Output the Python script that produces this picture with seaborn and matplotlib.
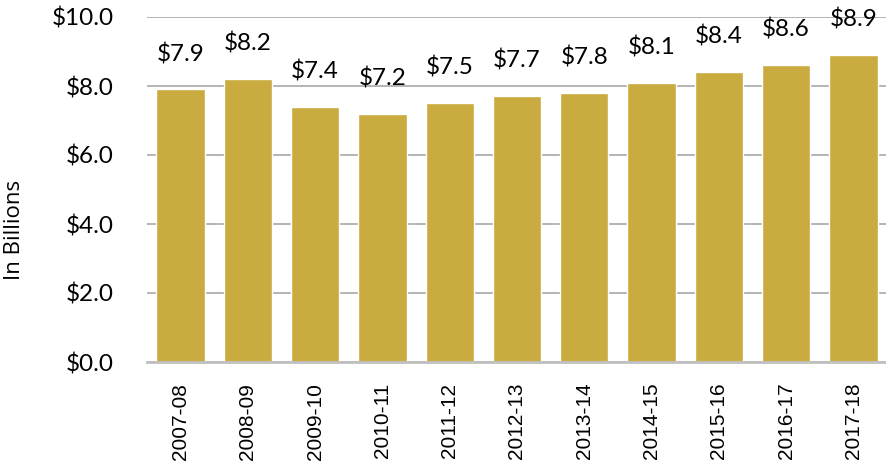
import matplotlib
matplotlib.use("Agg")
import matplotlib.pyplot as plt
import seaborn as sns
import pandas as pd

years = ["2007-08", "2008-09", "2009-10", "2010-11", "2011-12", "2012-13",
         "2013-14", "2014-15", "2015-16", "2016-17", "2017-18"]
billions = [7.9, 8.2, 7.4, 7.2, 7.5, 7.7, 7.8, 8.1, 8.4, 8.6, 8.9]
y_ticks = [0, 2, 4, 6, 8, 10]

df = pd.DataFrame({"year": years, "value": billions})

sns.set_theme(style="white")
plt.rcParams["font.family"] = ["Lato", "DejaVu Sans"]

fig = plt.figure(figsize=(8.87, 4.62), dpi=100)
ax = fig.add_axes([147 / 887, 1 - 362 / 462, 1 - 147 / 887, (362 - 17) / 462])

sns.barplot(data=df, x="year", y="value", color="#C9AB3F", saturation=1,
            width=0.72, ax=ax, zorder=3)

ax.set_ylim(0, 10)
ax.set_xlim(-0.5, len(years) - 0.5)
ax.set_yticks(y_ticks)
ax.set_yticklabels([f"${v:.1f}" for v in y_ticks], fontsize=17.5, color="black")
ax.tick_params(axis="y", length=0, pad=24)
ax.tick_params(axis="x", length=0, pad=15)
for lab in ax.get_xticklabels():
    lab.set_rotation(90)
    lab.set_fontfamily(["Liberation Sans", "DejaVu Sans"])
    lab.set_fontsize(15)
    lab.set_color("black")

ax.grid(axis="y", color="#a0a0a0", linewidth=1.1, zorder=0)
ax.set_axisbelow(True)
for side in ["left", "right", "top"]:
    ax.spines[side].set_visible(False)
ax.spines["bottom"].set_color("#c0c0c0")
ax.spines["bottom"].set_linewidth(2)
ax.spines["bottom"].set_zorder(4)

ax.set_xlabel("")
ax.set_ylabel("")
fig.text(15 / 887, 1 - 230 / 462, "In Billions", rotation=90, ha="center",
         va="center", fontsize=16, color="black",
         family=["Open Sans", "DejaVu Sans"])

for i, v in enumerate(billions):
    ax.annotate(f"${v:.1f}", (i, v), xytext=(0, 25.5), textcoords="offset points",
                ha="center", va="center", fontsize=17.5, color="black")

fig.savefig("out.png", dpi=100)
